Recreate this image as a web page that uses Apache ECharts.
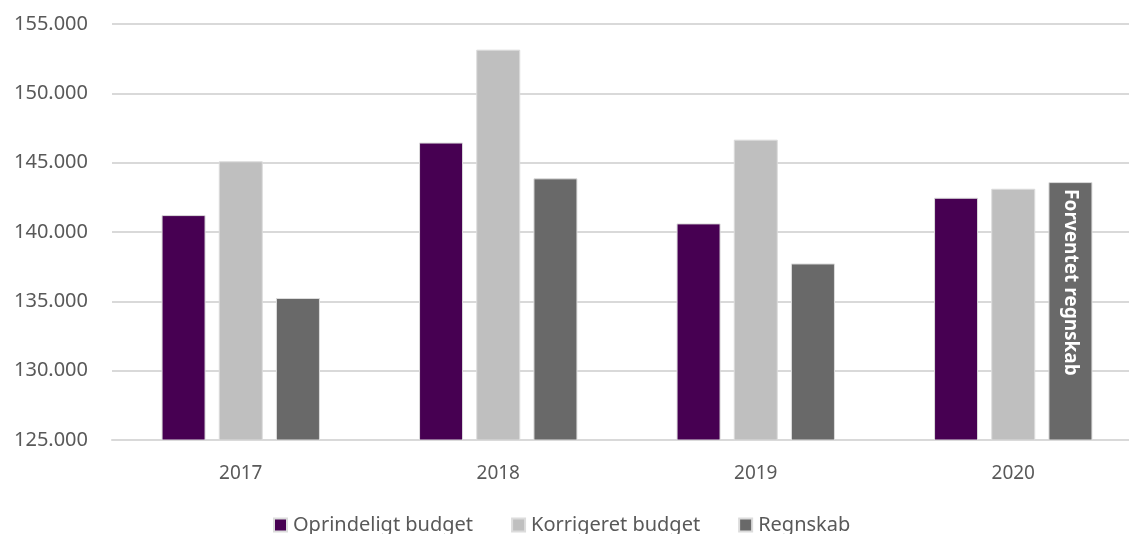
<!DOCTYPE html>
<html>
<head>
<meta charset="utf-8">
<script src="https://cdn.jsdelivr.net/npm/echarts@6/dist/echarts.min.js"></script>
<style>
  html, body { margin: 0; padding: 0; background: #fff; }
  #main { width: 1129px; height: 534px; }
</style>
</head>
<body>
<div id="main"></div>
<script>
// data
var years = ['2017', '2018', '2019', '2020'];
var oprindeligt = [141220, 146450, 140620, 142470];
var korrigeret = [145100, 153150, 146660, 143120];
var regnskab = [135240, 143870, 137730, 143600];
var seriesNames = ['Oprindeligt budget', 'Korrigeret budget', 'Regnskab'];
var noteText = 'Forventet regnskab';   // label on the last Regnskab bar

var FONT = 'Noto Sans';
var chart = echarts.init(document.getElementById('main'), null, { renderer: 'canvas' });

function fmt(v) {
  return String(v).replace(/\B(?=(\d{3})+(?!\d))/g, '.');
}

var regnskabData = regnskab.map(function (v, i) {
  if (i == regnskab.length - 1) {
    return {
      value: v,
      label: {
        show: true,
        position: 'insideTop',
        rotate: -90,
        align: 'left',
        verticalAlign: 'middle',
        distance: 7,
        formatter: noteText,
        color: '#fff',
        fontWeight: 'bold',
        fontFamily: FONT,
        fontSize: 19
      }
    };
  }
  return v;
});

function barStyle(color) {
  return { color: color, borderColor: '#dcdcdc', borderWidth: 1 };
}

var option = {
  animation: false,
  backgroundColor: '#fff',
  textStyle: { fontFamily: FONT },
  grid: { left: 112, top: 24, width: 1030, bottom: 94, outerBoundsMode: 'none' },
  legend: {
    top: 510,
    left: 268,
    icon: 'rect',
    itemWidth: 13,
    itemHeight: 13,
    itemGap: 38,
    textStyle: { color: '#595959', fontSize: 20, fontFamily: FONT, padding: [0, 0, 0, 1] },
    data: seriesNames
  },
  xAxis: {
    type: 'category',
    data: years,
    axisLine: { lineStyle: { color: '#d9d9d9', width: 2 } },
    axisTick: { show: false },
    axisLabel: { color: '#595959', fontSize: 19, fontFamily: FONT, margin: 24 }
  },
  yAxis: {
    type: 'value',
    min: 125000,
    max: 155000,
    interval: 5000,
    axisLine: { show: false },
    axisTick: { show: false },
    axisLabel: { color: '#595959', fontSize: 20, fontFamily: FONT, margin: 24, formatter: fmt },
    splitLine: { lineStyle: { color: '#d9d9d9', width: 2 } }
  },
  series: [
    { name: seriesNames[0], type: 'bar', data: oprindeligt, barWidth: 44, barGap: '30%', itemStyle: barStyle('#470052') },
    { name: seriesNames[1], type: 'bar', data: korrigeret, barWidth: 44, barGap: '30%', itemStyle: barStyle('#bfbfbf') },
    { name: seriesNames[2], type: 'bar', data: regnskabData, barWidth: 44, barGap: '30%', itemStyle: barStyle('#696969') }
  ]
};
chart.setOption(option);
</script>
</body>
</html>
